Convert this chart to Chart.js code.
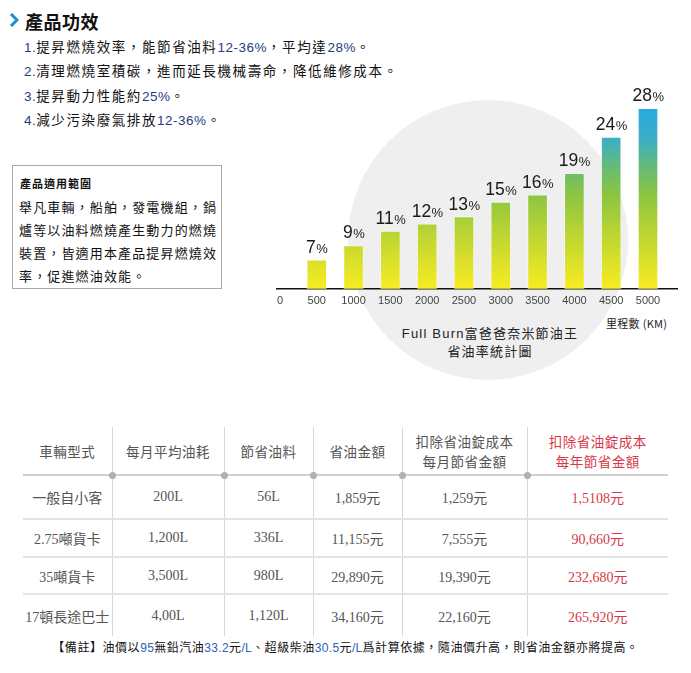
<!DOCTYPE html>
<html>
<head>
<meta charset="utf-8">
<script src="https://cdn.jsdelivr.net/npm/chart.js@4"></script>
<style>
  body { margin: 0; background: #fff; width: 691px; height: 673px; position: relative; overflow: hidden;
         font-family: "Liberation Sans", Arial, "Noto Sans CJK TC", sans-serif; color: #111; }
  .abs { position: absolute; }
  #arrow { left: 9px; top: 13px; width: 0; height: 0; }
  #heading { left: 25px; top: 8px; font-size: 18px; font-weight: bold; letter-spacing: 0.5px; font-family: "Noto Sans CJK TC", sans-serif; }
  #effects { left: 24px; top: 35px; font-size: 13.5px; letter-spacing: 1.6px; line-height: 23.3px; font-family: "Noto Sans CJK TC", sans-serif; }
  #effects .n { color: #1f3d7a; font-family: "Liberation Sans", Arial, sans-serif; letter-spacing: 0.5px; }
  #scope { left: 12px; top: 165px; width: 208px; height: 122px; border: 1px solid #aaa; font-family: "Noto Sans CJK TC", sans-serif; }
  #scope .t { position: absolute; left: 7px; top: 9px; font-size: 11px; font-weight: bold; letter-spacing: 1px; }
  #scope .b { position: absolute; left: 6px; top: 29px; font-size: 13px; letter-spacing: 1.15px; line-height: 23px; width: 204px; }
  #circle { left: 348px; top: 100px; width: 280px; height: 280px; border-radius: 50%; background: #efefef; }
  #chartWrap { left: 260px; top: 70px; width: 431px; height: 244px; }
  #ctitle { left: 390px; top: 325px; width: 200px; text-align: center; font-size: 13px; letter-spacing: 1.2px; line-height: 18px; font-family: "Liberation Sans", "Noto Sans CJK TC", sans-serif; color: #222; }
  #unit { left: 606px; top: 315px; font-size: 11px; letter-spacing: 0.3px; color: #222; font-family: "Noto Sans CJK TC", sans-serif; }
  table { position: absolute; left: 23px; top: 427px; width: 645px; border-collapse: collapse; table-layout: fixed;
          font-family: "Liberation Serif", "Times New Roman", "Noto Sans CJK TC", serif; font-size: 14px; color: #555; }
  td, th { text-align: center; padding: 0; font-weight: normal; }
  td + td, th + th { border-left: 1px solid #d8d8d8; }
  thead th { height: 47px; border-bottom: 2px solid #cfcfcf; line-height: 20px; font-family: "Noto Sans CJK TC", serif; font-size: 13.5px; letter-spacing: 0.5px; }
  tbody td { border-bottom: 2px solid #e4e4e4; }
  tbody tr:last-child td { border-bottom: none; }
  .red { color: #d63a48; }
  .dot { position: absolute; width: 7px; height: 7px; border-radius: 50%; background: #b0b0b0; top: 472px; }
  #note { left: 0; width: 691px; top: 638px; text-align: center; font-size: 12px; letter-spacing: 0.55px; font-family: "Noto Sans CJK TC", sans-serif; }
  #note .n { color: #2a62b8; font-family: "Liberation Sans", Arial, sans-serif; letter-spacing: 0.3px; }
</style>
</head>
<body>
<div id="arrow" class="abs"><svg width="10" height="14"><polyline points="2,1 8,7 2,13" fill="none" stroke="#1a8fd6" stroke-width="3"/></svg></div>
<div id="heading" class="abs">產品功效</div>
<div id="effects" class="abs">
  <div><span class="n">1.</span>提昇燃燒效率，能節省油料<span class="n">12-36%</span>，平均達<span class="n">28%</span>。</div>
  <div><span class="n">2.</span>清理燃燒室積碳，進而延長機械壽命，降低維修成本。</div>
  <div><span class="n">3.</span>提昇動力性能約<span class="n">25%</span>。</div>
  <div><span class="n">4.</span>減少污染廢氣排放<span class="n">12-36%</span>。</div>
</div>
<div id="scope" class="abs">
  <div class="t">產品適用範圍</div>
  <div class="b">舉凡車輛，船舶，發電機組，鍋爐等以油料燃燒產生動力的燃燒裝置，皆適用本產品提昇燃燒效率，促進燃油效能。</div>
</div>

<div id="circle" class="abs"></div>
<div id="chartWrap" class="abs"><canvas id="chart" width="431" height="244"></canvas></div>
<div id="ctitle" class="abs">Full Burn富爸爸奈米節油王<br>省油率統計圖</div>
<div id="unit" class="abs">里程數 (KM)</div>

<table id="tbl">
  <colgroup><col style="width:89px"><col style="width:112px"><col style="width:89px"><col style="width:89px"><col style="width:125px"><col style="width:141px"></colgroup>
  <thead><tr id="hdr"></tr></thead>
  <tbody id="rows"></tbody>
</table>

<div id="note" class="abs">【備註】油價以<span class="n">95</span>無鉛汽油<span class="n">33.2</span>元<span class="n">/L</span>、超級柴油<span class="n">30.5</span>元<span class="n">/L</span>爲計算依據，隨油價升高，則省油金額亦將提高。</div>

<script>
// chart data
const mileage = [500, 1000, 1500, 2000, 2500, 3000, 3500, 4000, 4500, 5000];
const savings = [7, 9, 11, 12, 13, 15, 16, 19, 24, 28];
const mileageTicks = [0, 500, 1000, 1500, 2000, 2500, 3000, 3500, 4000, 4500, 5000];

// table data
const headers = ["車輛型式", "每月平均油耗", "節省油料", "省油金額", "扣除省油錠成本<br>每月節省金額", "扣除省油錠成本<br>每年節省金額"];
const vehicleTypes = ["一般自小客", "2.75噸貨卡", "35噸貨卡", "17頓長途巴士"];
const monthlyFuel = ["200L", "1,200L", "3,500L", "4,00L"];
const fuelSaved = ["56L", "336L", "980L", "1,120L"];
const moneySaved = ["1,859元", "11,155元", "29,890元", "34,160元"];
const monthlyNet = ["1,259元", "7,555元", "19,390元", "22,160元"];
const yearlyNet = ["1,5108元", "90,660元", "232,680元", "265,920元"];
const rowHeights = [42, 36, 35, 41];

// build table
const hdr = document.getElementById("hdr");
headers.forEach((h, i) => {
  const th = document.createElement("th");
  th.innerHTML = h;
  if (i === 5) th.className = "red";
  hdr.appendChild(th);
});
const tbody = document.getElementById("rows");
vehicleTypes.forEach((v, i) => {
  const tr = document.createElement("tr");
  tr.innerHTML = `<td>${v}</td><td>${monthlyFuel[i]}</td><td>${fuelSaved[i]}</td><td>${moneySaved[i]}</td><td>${monthlyNet[i]}</td><td class="red">${yearlyNet[i]}</td>`;
  tr.firstChild.style.height = rowHeights[i] + "px";
  tbody.appendChild(tr);
});
[112, 224, 313, 402, 527].forEach(x => {
  const d = document.createElement("div");
  d.className = "dot";
  d.style.left = (x - 3) + "px";
  document.body.appendChild(d);
});

// bar colours: yellow at the base, green in the middle, blue at the top
function barGradient(ctx) {
  const chart = ctx.chart;
  if (!chart.chartArea) return "#8cc540";
  const y = chart.scales.y;
  const g = chart.ctx.createLinearGradient(0, y.getPixelForValue(3), 0, y.getPixelForValue(28));
  g.addColorStop(0, "#f8ec22");
  g.addColorStop(0.3, "#bcd533");
  g.addColorStop(0.52, "#8cc540");
  g.addColorStop(0.68, "#64bb78");
  g.addColorStop(0.82, "#3eafc4");
  g.addColorStop(1, "#27a9e1");
  return g;
}

// value labels: big number + small %
const valueLabels = {
  id: "valueLabels",
  afterDatasetsDraw(chart) {
    const ctx = chart.ctx;
    const meta = chart.getDatasetMeta(0);
    ctx.save();
    ctx.fillStyle = "#1a1a1a";
    ctx.textBaseline = "alphabetic";
    meta.data.forEach((bar, i) => {
      const num = String(savings[i]);
      ctx.font = "17.5px 'Liberation Sans', Arial, sans-serif";
      const w1 = ctx.measureText(num).width;
      ctx.font = "13px 'Liberation Sans', Arial, sans-serif";
      const w2 = ctx.measureText("%").width;
      const x0 = bar.x - (w1 + w2) / 2;
      const yb = bar.y - 7;
      ctx.font = "17.5px 'Liberation Sans', Arial, sans-serif";
      ctx.fillText(num, x0, yb);
      ctx.font = "13px 'Liberation Sans', Arial, sans-serif";
      ctx.fillText("%", x0 + w1 + 0.5, yb);
    });
    ctx.restore();
  }
};

new Chart(document.getElementById("chart"), {
  type: "bar",
  data: {
    datasets: [{
      data: mileage.map((m, i) => ({ x: m, y: savings[i] })),
      backgroundColor: barGradient,
      borderColor: "rgba(255,255,255,0.45)",
      borderWidth: 1,
      borderSkipped: "bottom",
      barThickness: 20
    }]
  },
  options: {
    responsive: false,
    animation: false,
    layout: { padding: { left: 17, right: 14, top: 0, bottom: 0 } },
    plugins: { legend: { display: false }, tooltip: { enabled: false } },
    scales: {
      x: {
        type: "linear",
        offset: false,
        min: -40,
        max: 5394,
        afterBuildTicks: axis => { axis.ticks = mileageTicks.map(v => ({ value: v })); },
        grid: { display: false, drawTicks: false },
        border: { display: true, color: "#111", width: 1.5 },
        ticks: {
          padding: 6,
          color: "#444",
          font: { family: "'Liberation Sans', Arial, sans-serif", size: 11 },
          maxRotation: 0,
          autoSkip: false,
          callback: v => String(v)
        }
      },
      y: { display: false, min: 3, max: 33.3 }
    }
  },
  plugins: [valueLabels]
});
</script>
</body>
</html>
